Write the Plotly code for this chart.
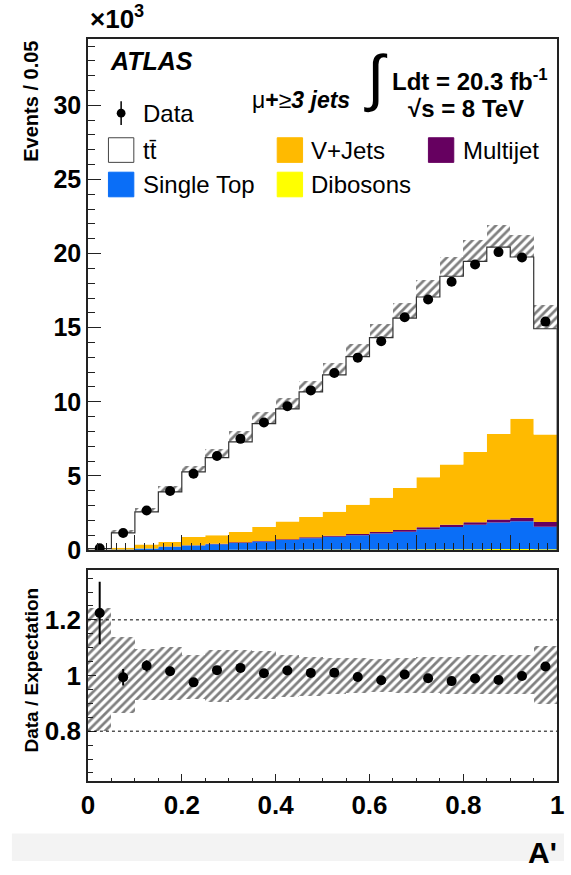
import plotly.graph_objects as go

# A' distribution, mu + >=3 jets, 20 bins of width 0.05 (events in units of 10^3)
bin_edges = [0.0, 0.05, 0.10, 0.15, 0.20, 0.25, 0.30, 0.35, 0.40, 0.45, 0.50,
             0.55, 0.60, 0.65, 0.70, 0.75, 0.80, 0.85, 0.90, 0.95, 1.0]

data_k = [0.12, 1.15, 2.67, 3.98, 5.15, 6.35, 7.50, 8.60, 9.70, 10.77,
          11.94, 12.98, 14.09, 15.71, 16.90, 18.10, 19.26, 20.10, 19.73, 15.41]
data_err_k = [0.011, 0.034, 0.052, 0.063, 0.072, 0.080, 0.087, 0.093, 0.098, 0.104,
              0.109, 0.114, 0.119, 0.125, 0.130, 0.135, 0.139, 0.142, 0.140, 0.124]

dibosons_k = [0.00, 0.00, 0.01, 0.01, 0.01, 0.01, 0.02, 0.02, 0.02, 0.03,
              0.03, 0.03, 0.04, 0.04, 0.05, 0.05, 0.06, 0.07, 0.07, 0.06]
single_top_k = [0.01, 0.04, 0.09, 0.21, 0.29, 0.39, 0.46, 0.55, 0.66, 0.77,
                0.87, 0.97, 1.08, 1.20, 1.35, 1.50, 1.65, 1.79, 1.88, 1.52]
multijet_k = [0.00, 0.005, 0.01, 0.02, 0.02, 0.03, 0.04, 0.04, 0.05, 0.06,
              0.07, 0.08, 0.10, 0.12, 0.13, 0.16, 0.16, 0.20, 0.23, 0.32]
vjets_k = [0.01, 0.105, 0.27, 0.31, 0.56, 0.57, 0.70, 0.94, 1.19, 1.37,
           1.62, 1.97, 2.30, 2.82, 3.38, 4.06, 4.74, 5.77, 6.67, 5.89]
ttbar_k = [0.078, 1.007, 2.20, 3.37, 4.40, 5.23, 6.08, 6.98, 7.61, 8.44,
           9.23, 10.00, 10.81, 11.47, 12.16, 12.70, 12.86, 12.60, 10.92, 7.14]

# relative systematic uncertainty on the expectation (up / down)
unc_up = [0.245, 0.141, 0.098, 0.104, 0.073, 0.092, 0.094, 0.088, 0.073, 0.068,
          0.065, 0.065, 0.062, 0.065, 0.067, 0.068, 0.073, 0.073, 0.073, 0.106]
unc_dn = [0.200, 0.135, 0.088, 0.088, 0.082, 0.094, 0.088, 0.082, 0.076, 0.071,
          0.065, 0.061, 0.059, 0.061, 0.061, 0.064, 0.065, 0.066, 0.066, 0.100]

x_ticks = [0, 0.2, 0.4, 0.6, 0.8, 1.0]
x_ticktext = ["0", "0.2", "0.4", "0.6", "0.8", "1"]
main_yticks = [0, 5, 10, 15, 20, 25, 30]
ratio_yticks = [0.8, 1.0, 1.2]
ratio_ytext = ["0.8", "1", "1.2"]

# stack order from the bottom up
stack = [
    ("Dibosons", dibosons_k, "#FFFF00"),
    ("Single Top", single_top_k, "#0A6EF7"),
    ("Multijet", multijet_k, "#660060"),
    ("V+Jets", vjets_k, "#FFBA00"),
    ("tt̄", ttbar_k, "#FFFFFF"),
]

W, H = 571, 875
FONT = "Liberation Sans"
n = len(data_k)
centers = [(bin_edges[i] + bin_edges[i + 1]) / 2 for i in range(n)]
widths = [bin_edges[i + 1] - bin_edges[i] for i in range(n)]

total = [sum(s[1][i] for s in stack) for i in range(n)]
ratio = [data_k[i] / total[i] for i in range(n)]
ratio_err = [data_err_k[i] / total[i] for i in range(n)]


def step_y(vals):
    return list(vals) + [vals[-1]]


fig = go.Figure()

# stacked expectation as filled step areas
cum = [0.0] * n
for k, (name, vals, color) in enumerate(stack):
    cum = [cum[i] + vals[i] for i in range(n)]
    fig.add_trace(go.Scatter(
        x=bin_edges, y=step_y(cum), mode="lines", line=dict(width=0, shape="hv"),
        fill="tozeroy" if k == 0 else "tonexty", fillcolor=color,
        xaxis="x", yaxis="y", showlegend=False, hoverinfo="skip"))

hatch = dict(shape="/", fgcolor="#000000", size=6, solidity=0.45, fillmode="overlay")

# uncertainty band on the total expectation
fig.add_trace(go.Bar(
    x=centers, width=widths,
    base=[total[i] * (1 - unc_dn[i]) for i in range(n)],
    y=[total[i] * (unc_up[i] + unc_dn[i]) for i in range(n)],
    marker=dict(color="rgba(0,0,0,0)", line=dict(width=0), pattern=hatch),
    xaxis="x", yaxis="y", showlegend=False, hoverinfo="skip"))

# outline of the total expectation
fig.add_trace(go.Scatter(
    x=[bin_edges[0]] + bin_edges + [bin_edges[-1]],
    y=[0] + step_y(total) + [0],
    mode="lines", line=dict(color="#333333", width=1.2, shape="hv"),
    xaxis="x", yaxis="y", showlegend=False, hoverinfo="skip"))

fig.add_trace(go.Scatter(
    x=centers, y=data_k, mode="markers",
    marker=dict(color="black", size=10),
    error_y=dict(type="data", array=data_err_k, color="black", thickness=1.5, width=0),
    xaxis="x", yaxis="y", showlegend=False, hoverinfo="skip"))

# ratio panel
fig.add_trace(go.Bar(
    x=centers, width=widths,
    base=[1 - d for d in unc_dn],
    y=[unc_up[i] + unc_dn[i] for i in range(n)],
    marker=dict(color="rgba(0,0,0,0)", line=dict(width=0), pattern=hatch),
    xaxis="x2", yaxis="y2", showlegend=False, hoverinfo="skip"))

fig.add_trace(go.Scatter(
    x=centers, y=ratio, mode="markers",
    marker=dict(color="black", size=10),
    error_y=dict(type="data", array=ratio_err, color="black", thickness=2, width=0),
    xaxis="x2", yaxis="y2", showlegend=False, hoverinfo="skip"))


def px(x):
    return x / W


def py(y):
    return 1 - y / H


x_dom = [px(83), px(564)]
axis_common = dict(showline=True, mirror=True, linecolor="#222222", linewidth=1.5,
                   showgrid=False, zeroline=False, ticks="inside", tickcolor="#222222",
                   tickwidth=1)
tick_font = dict(family=FONT, size=26, color="black", weight="bold")

fig.update_layout(
    width=W, height=H, margin=dict(l=0, r=0, t=0, b=0),
    paper_bgcolor="white", plot_bgcolor="white",
    barmode="overlay", bargap=0,
    xaxis=dict(domain=x_dom, anchor="y", range=[0, 1], dtick=0.1, tick0=0, ticklen=15,
               minor=dict(dtick=0.02, tick0=0, ticklen=7, ticks="inside", tickcolor="#222222"),
               showticklabels=False, **axis_common),
    yaxis=dict(domain=[py(559), py(40)], anchor="x", range=[0, 34.45],
               tickvals=main_yticks, ticklen=13,
               minor=dict(dtick=1, tick0=0, ticklen=7, ticks="inside", tickcolor="#222222"),
               tickfont=dict(tick_font, size=25), **axis_common),
    xaxis2=dict(domain=x_dom, anchor="y2", range=[0, 1], tickvals=x_ticks,
                ticktext=x_ticktext, ticklen=8, ticklabeloverflow="allow",
                minor=dict(dtick=0.05, tick0=0, ticklen=4, ticks="inside", tickcolor="#222222"),
                tickfont=tick_font, **axis_common),
    yaxis2=dict(domain=[py(794), py(579)], anchor="x2", range=[0.62, 1.38],
                tickvals=ratio_yticks, ticktext=ratio_ytext, ticklen=8,
                minor=dict(dtick=0.05, tick0=0, ticklen=5, ticks="inside", tickcolor="#222222"),
                tickfont=tick_font, **axis_common),
)

shapes = [
    # light strip along the bottom of the canvas
    dict(type="rect", xref="paper", yref="paper", x0=px(5), x1=1, y0=0, y1=py(847),
         fillcolor="#f3f3f3", line=dict(width=0), layer="below"),
    dict(type="line", xref="x2", yref="y2", x0=0, x1=1, y0=1.2, y1=1.2,
         line=dict(color="black", width=1, dash="dot")),
    dict(type="line", xref="x2", yref="y2", x0=0, x1=1, y0=0.8, y1=0.8,
         line=dict(color="black", width=1, dash="dot")),
]

annotations = []


def text(x, y, s, size, xanchor="left", yanchor="middle", weight="normal", angle=0,
         family=FONT):
    annotations.append(dict(
        x=px(x), y=py(y), xref="paper", yref="paper", text=s, showarrow=False,
        xanchor=xanchor, yanchor=yanchor, textangle=angle,
        font=dict(family=family, size=size, color="black", weight=weight)))


# legend: swatches and labels
legend_boxes = [
    (104, 140, "tt̄", "#FFFFFF"),
    (104, 175, "Single Top", "#0A6EF7"),
    (277, 140, "V+Jets", "#FFBA00"),
    (277, 175, "Dibosons", "#FFFF00"),
    (432, 140, "Multijet", "#660060"),
]
for bx, by, label, color in legend_boxes:
    shapes.append(dict(type="rect", xref="paper", yref="paper",
                       x0=px(bx), x1=px(bx + 26), y0=py(by + 25), y1=py(by),
                       fillcolor=color,
                       line=dict(color="#444444" if color == "#FFFFFF" else color, width=1)))
    text(bx + 33, by + 12.5, label, 24)

shapes.append(dict(type="line", xref="paper", yref="paper", x0=px(117), x1=px(117),
                   y0=py(127), y1=py(103), line=dict(color="black", width=1.5)))
shapes.append(dict(type="circle", xref="paper", yref="paper", x0=px(112.5), x1=px(121.5),
                   y0=py(119.5), y1=py(110.5), fillcolor="black", line=dict(color="black", width=0)))
text(137, 115, "Data", 24)

text(104, 62, "<i>ATLAS</i>", 25, weight="bold")
text(354, 102, "μ<b>+</b>≥<b><i>3 jets</i></b>", 23, xanchor="right")
text(378, 79, "∫", 62, xanchor="center")
text(393, 81, "Ldt = 20.3 fb<sup>-1</sup>", 24, weight="bold")
text(409, 110, "√s = 8 TeV", 24, weight="bold")
text(83, 37, "×10<sup>3</sup>", 26, yanchor="bottom", weight="bold")

text(25, 103, "Events / 0.05", 20, xanchor="center", weight="bold", angle=-90)
text(25, 681, "Data / Expectation", 19, xanchor="center", weight="bold", angle=-90)
text(566, 866, "A'", 30, xanchor="right", weight="bold")

fig.update_layout(shapes=shapes, annotations=annotations)

fig.write_html("out.html")
